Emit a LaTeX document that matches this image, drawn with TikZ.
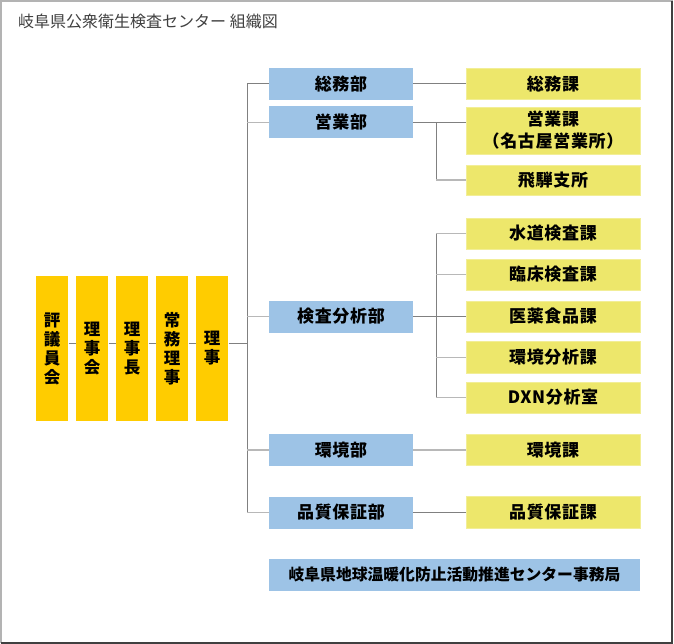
\documentclass[tikz,border=0pt]{standalone}
\usepackage{fontspec}
\setmainfont{Noto Sans CJK JP}
\newfontfamily\bx{Noto Sans CJK JP}[LetterSpace=4]
\newfontfamily\bxn{Noto Sans CJK JP}
\definecolor{gold}{HTML}{FFCC00}
\definecolor{bluebox}{HTML}{9DC3E6}
\definecolor{ylw}{HTML}{EDE76B}
\definecolor{lnd}{HTML}{808080}
\definecolor{lnl}{HTML}{B8B8B8}
\definecolor{titlec}{HTML}{404040}
\tikzset{
  lead/.style={fill=gold, draw=none, minimum width=32.6pt, minimum height=145pt, inner sep=0pt,
    align=center, font=\bxn\bfseries\fontsize{16.5}{19}\selectfont},
  dept/.style={fill=bluebox, draw=none, minimum width=144pt, minimum height=32pt, inner sep=0pt,
    font=\bx\bfseries\fontsize{17}{19}\selectfont},
  sect/.style={fill=ylw, draw=ylw!70!white, line width=0.6pt, minimum width=174pt, minimum height=31pt, inner sep=0pt,
    align=center, font=\bx\bfseries\fontsize{17}{22}\selectfont},
  ln/.style={draw=lnd, line width=1pt},
  lnl/.style={draw=lnl, line width=1.6pt}
}
\begin{document}
\begin{tikzpicture}[x=1pt,y=-1pt]
\useasboundingbox (0,0) rectangle (674,644);
\fill[white] (0,0) rectangle (674,644);
% frame
\draw[draw=titlec!40!white, line width=2pt] (1,643) -- (1,1) -- (673,1);
\draw[draw=titlec, line width=2pt] (672,1) -- (672,642.5) -- (1,642.5);
% title
\node[anchor=base west, inner sep=0pt, text=titlec, font=\bxn\fontsize{16}{18}\selectfont] (title) at (18,28) {岐阜県公衆衛生検査センター 組織図};
% leadership
\node[lead] (hyogi) at (52,348.5) {評\\議\\員\\会};
\node[lead] (rijikai) at (92,348.5) {理\\事\\会};
\node[lead] (rijicho) at (132,348.5) {理\\事\\長};
\node[lead] (jomu) at (172,348.5) {常\\務\\理\\事};
\node[lead] (riji) at (212,348.5) {理\\事};
% departments
\node[dept] (soumu) at (341,84) {総務部};
\node[dept] (eigyo) at (341,122.5) {営業部};
\node[dept] (kensa) at (341,316.5) {検査分析部};
\node[dept] (kankyo) at (341,450) {環境部};
\node[dept] (hinshitsu) at (341,512.5) {品質保証部};
\node[dept, minimum width=371pt, font=\bxn\bfseries\fontsize{15.8}{18}\selectfont] (ondanka) at (454.5,575) {岐阜県地球温暖化防止活動推進センター事務局};
% sections
\node[sect] (soumuka) at (553,84) {総務課};
\node[sect, minimum height=47pt] (eigyoka) at (553,130.5) {営業課\\（名古屋営業所）};
\node[sect, minimum height=30pt] (hida) at (553,180) {飛騨支所};
\node[sect] (suido) at (553,233.5) {水道検査課};
\node[sect] (rinsho) at (553,274.5) {臨床検査課};
\node[sect] (iyaku) at (553,316.5) {医薬食品課};
\node[sect, minimum height=32pt] (kbunseki) at (553,357.5) {環境分析課};
\node[sect] (dxn) at (553,397.5) {DXN分析室};
\node[sect] (kankyoka) at (553,450) {環境課};
\node[sect, minimum height=32pt] (hinka) at (553,512.5) {品質保証課};
% junctions
\coordinate (tk) at (247,343.3);
\coordinate (j1) at (436,122.5);
\coordinate (j2) at (436,316.5);
% leadership chain
\draw[ln] (hyogi.east |- tk) -- (rijikai.west |- tk);
\draw[ln] (rijikai.east |- tk) -- (rijicho.west |- tk);
\draw[ln] (rijicho.east |- tk) -- (jomu.west |- tk);
\draw[ln] (jomu.east |- tk) -- (riji.west |- tk);
\draw[ln] (riji.east |- tk) -- (tk);
% main trunk
\draw[ln] (soumu.west) -| (tk |- hinshitsu.west);
\draw[lnl] (tk |- eigyo.west) -- (eigyo.west);
\draw[lnl] (tk |- kensa.west) -- (kensa.west);
\draw[lnl] (tk |- kankyo.west) -- (kankyo.west);
\draw[lnl] (tk |- hinshitsu.west) -- (hinshitsu.west);
% sales
\draw[ln] (soumu.east) -- (soumuka.west);
\draw[ln] (eigyo.east) -- (eigyoka.west |- j1);
\draw[ln] (j1) |- (hida.west);
\draw[lnl] (j1 |- hida.west) -- (hida.west);
% inspection
\draw[ln] (kensa.east) -- (iyaku.west);
\draw[ln] (j2 |- suido.west) -- (j2 |- dxn.west);
\draw[lnl] (j2 |- suido.west) -- (suido.west);
\draw[lnl] (j2 |- rinsho.west) -- (rinsho.west);
\draw[lnl] (j2 |- kbunseki.west) -- (kbunseki.west);
\draw[lnl] (j2 |- dxn.west) -- (dxn.west);
% others
\draw[lnl] (kankyo.east) -- (kankyoka.west);
\draw[ln] (hinshitsu.east) -- (hinka.west);
\end{tikzpicture}
\end{document}
